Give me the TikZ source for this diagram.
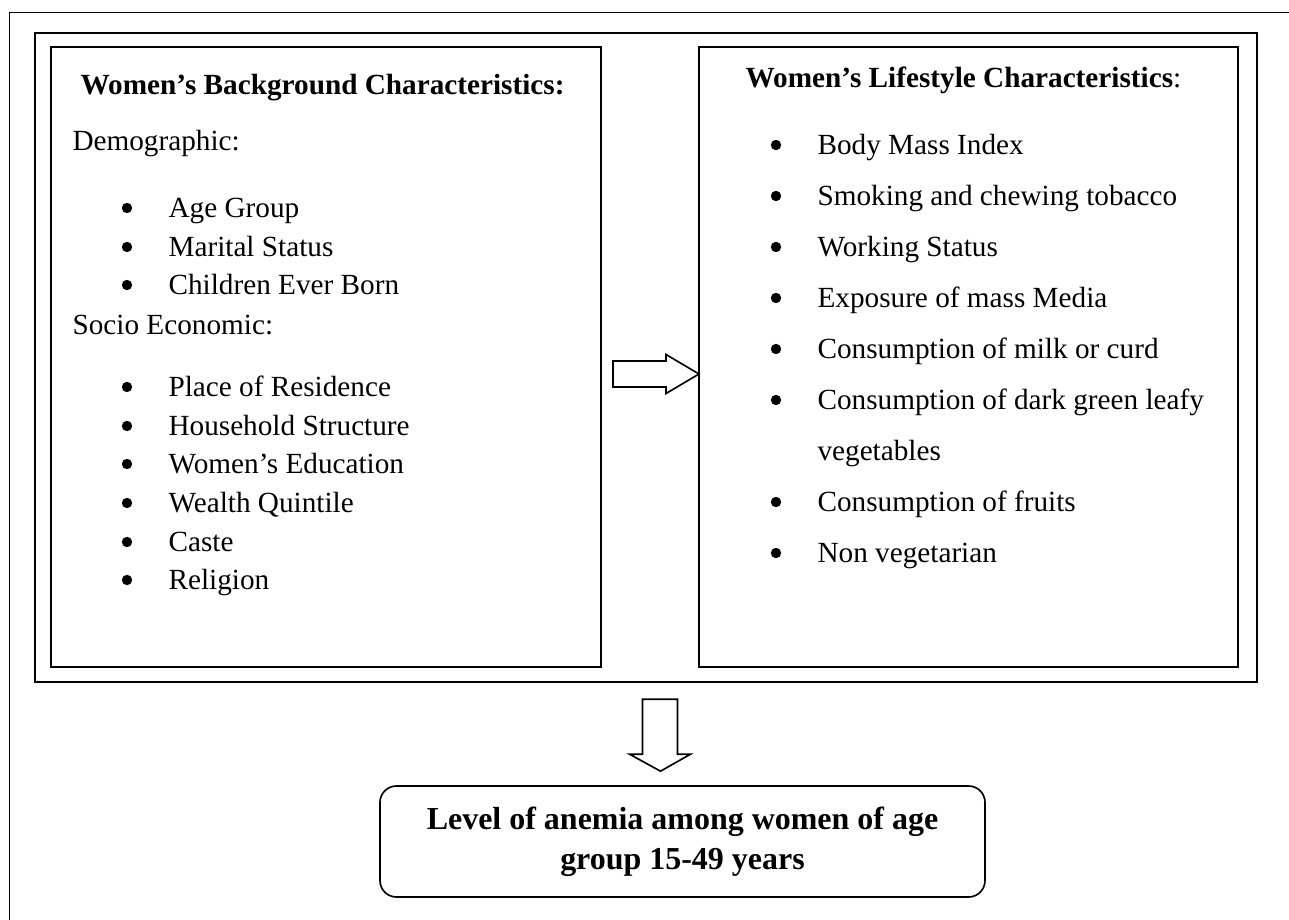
\documentclass[tikz,border=0pt]{standalone}
\usepackage{fontspec}
\setmainfont{Liberation Serif}
\usetikzlibrary{positioning, calc}

\newcommand{\pxu}{0.366pt}

\tikzset{
    pane/.style={draw, line width=0.6pt, inner sep=0pt, outer sep=0pt, anchor=north west},
    txt/.style={anchor=base west, inner sep=0pt, font=\fontsize{10.7pt}{13pt}\selectfont},
    dot/.style={circle, fill=black, inner sep=0pt, minimum size=3.8pt},
    hollow/.style={draw, line width=0.6pt, fill=white, line join=miter},
}

\begin{document}
\begin{tikzpicture}[x=\pxu, y=-\pxu]

        \path[use as bounding box, clip] (0,0) rectangle (1289,920);

        % page frame, runs off the right and bottom
        \draw[line width=0.6pt] (9.5,12.5) rectangle (1320,960);

        \node[pane, minimum width={1222*\pxu}, minimum height={649*\pxu}] (outer) at (35,33) {};

        \node[pane, minimum width={550*\pxu}, minimum height={620*\pxu}] (bg) at (51,47) {};

        \node[pane, minimum width={539*\pxu}, minimum height={620*\pxu}] (ls) at (699,47) {};

        \node[draw, line width=0.6pt, rounded corners=6pt, inner sep=0pt, align=center,
              minimum width={605*\pxu}, minimum height={111*\pxu},
              font=\fontsize{11.7pt}{14.6pt}\selectfont\bfseries] (anemia) at (682.5,841.5)
              {Level of anemia among women of age\\group 15-49 years};

        % background characteristics
        \node[txt, font=\fontsize{10.7pt}{13pt}\selectfont\bfseries] (bgtitle) at (80,94) {Women’s Background Characteristics:};

        \node[txt] (demo) at (72,150) {Demographic:};

        \foreach \t/\y [count=\i] in {Age Group/217, Marital Status/256, Children Ever Born/294}
        {
            \node[dot] (demodot\i) at (127,\y-9) {};
            \node[txt] (demo\i) at (168,\y) {\t};
        }

        \node[txt] (socio) at (72,334) {Socio Economic:};

        \foreach \t/\y [count=\i] in {Place of Residence/396, Household Structure/435,
            Women’s Education/473, Wealth Quintile/512, Caste/551, Religion/589}
        {
            \node[dot] (sociodot\i) at (127,\y-9) {};
            \node[txt] (socio\i) at (168,\y) {\t};
        }

        % lifestyle characteristics
        \node[txt] (lstitle) at (745,87) {\textbf{Women’s Lifestyle Characteristics}:};

        \foreach \t/\y [count=\i] in {Body Mass Index/154, Smoking and chewing tobacco/205,
            Working Status/256, Exposure of mass Media/307, Consumption of milk or curd/358,
            Consumption of dark green leafy/409, Consumption of fruits/511, Non vegetarian/562}
        {
            \node[dot] (lsdot\i) at (776,\y-9) {};
            \node[txt] (ls\i) at (817,\y) {\t};
        }

        \node[txt] (lsveg) at (817,460) {vegetables};

        % block arrows
        \coordinate (tipR) at ($(ls.west)+(0,17)$);
        \draw[hollow] (tipR) -- ++(-33,-19.5) -- ++(0,6.5) -- ++(-53,0) -- ++(0,26)
            -- ++(53,0) -- ++(0,6.5) -- cycle;

        \coordinate (tipD) at ($(anemia.north)+(-22,-14)$);
        \draw[hollow] (tipD) -- ++(-31,-17) -- ++(13,0) -- ++(0,-55) -- ++(35,0)
            -- ++(0,55) -- ++(13,0) -- cycle;

\end{tikzpicture}
\end{document}
